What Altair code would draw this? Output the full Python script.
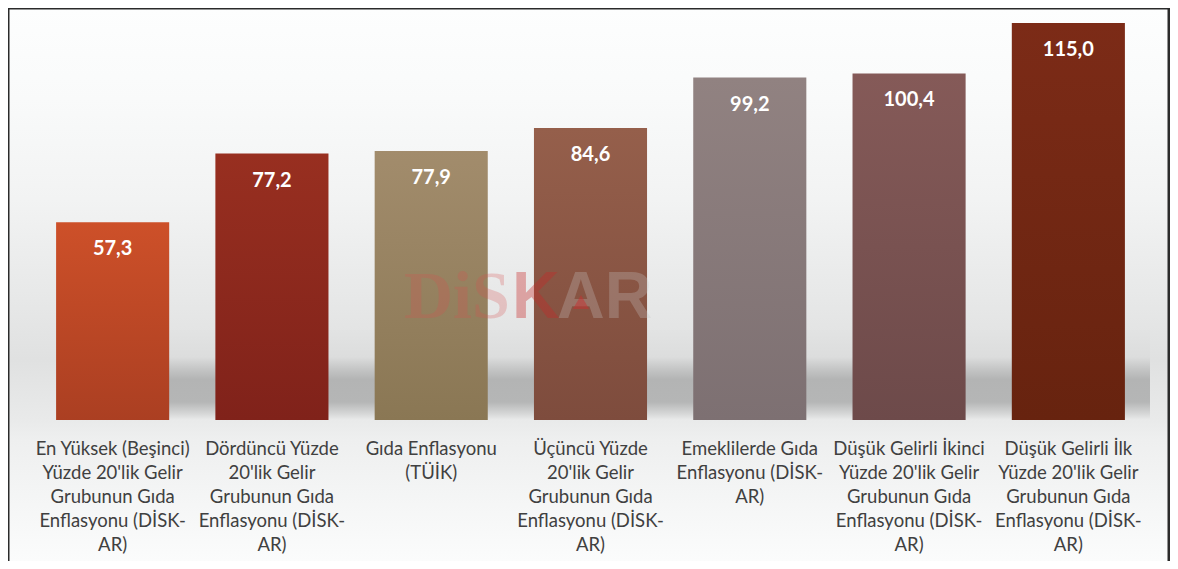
import altair as alt
import pandas as pd

categories = [
    "En Yüksek (Beşinci)\nYüzde 20'lik Gelir\nGrubunun Gıda\nEnflasyonu (DİSK-\nAR)",
    "Dördüncü Yüzde\n20'lik Gelir\nGrubunun Gıda\nEnflasyonu (DİSK-\nAR)",
    "Gıda Enflasyonu\n(TÜİK)",
    "Üçüncü Yüzde\n20'lik Gelir\nGrubunun Gıda\nEnflasyonu (DİSK-\nAR)",
    "Emeklilerde Gıda\nEnflasyonu (DİSK-\nAR)",
    "Düşük Gelirli İkinci\nYüzde 20'lik Gelir\nGrubunun Gıda\nEnflasyonu (DİSK-\nAR)",
    "Düşük Gelirli İlk\nYüzde 20'lik Gelir\nGrubunun Gıda\nEnflasyonu (DİSK-\nAR)",
]
values = [57.3, 77.2, 77.9, 84.6, 99.2, 100.4, 115.0]

top_colors = ["#cd5029", "#982f20", "#a28c6c", "#955f4b", "#918281", "#855a58", "#7c2b17"]
bottom_colors = ["#ab3f22", "#80221a", "#8a7754", "#7e4c3d", "#7d7072", "#6d4a4a", "#67230f"]

df = pd.DataFrame({"cat": categories, "value": values, "idx": list(range(len(values)))})

W, H = 1115, 410
Y_MAX = 118.77

x_enc = alt.X("cat:N", sort=categories,
              scale=alt.Scale(domain=categories, paddingInner=0.29, paddingOuter=0.145),
              axis=None)
y_enc = alt.Y("value:Q", scale=alt.Scale(domain=[0, Y_MAX]), axis=None)

one = pd.DataFrame({"a": [0]})

def grad(stops, vertical=True):
    return alt.Gradient(
        gradient="linear",
        stops=[alt.GradientStop(color=c, offset=o) for o, c in stops],
        x1=0, x2=0 if vertical else 1, y1=0, y2=1 if vertical else 0,
    )

bg = alt.Chart(one).mark_rect(color=grad([
    (0.0, "#fdfefe"), (0.165, "#f9fafa"), (0.346, "#f2f3f3"), (0.527, "#e7e8e8"),
    (0.636, "#e0e1e1"), (0.745, "#e9eaea"), (0.78, "#eeefef"), (1.0, "#fbfcfc"),
])).encode(x=alt.value(-25), x2=alt.value(1136), y=alt.value(-2), y2=alt.value(551))

shadow = alt.Chart(one).mark_rect(color=grad([
    (0.0, "#e2e3e3"), (0.3, "#dcdddd"), (0.45, "#c2c3c3"), (0.55, "#b3b4b4"),
    (0.8, "#b5b6b6"), (0.93, "#d6d7d7"), (1.0, "#eaebeb"),
])).encode(x=alt.value(136), x2=alt.value(1117), y=alt.value(320), y2=alt.value(410))

bar_layers = []
for i in range(len(values)):
    bar_layers.append(
        alt.Chart(df).transform_filter(alt.datum.idx == i)
        .mark_bar(color=grad([(0, top_colors[i]), (1, bottom_colors[i])]))
        .encode(x=x_enc, y=y_enc)
    )

wm1 = alt.Chart(one).mark_text(text="DiS", font="Liberation Serif", fontWeight="bold",
                               fontSize=68, align="left", baseline="alphabetic",
                               color="#d85050", opacity=0.25).encode(
    x=alt.value(371), y=alt.value(308))
wm2 = alt.Chart(one).mark_text(text="K", font="Liberation Sans", fontWeight="bold",
                               fontSize=66, align="left", baseline="alphabetic",
                               color="#c82828", opacity=0.36).encode(
    x=alt.value(479), y=alt.value(308))
wm3 = alt.Chart(one).mark_text(text="AR", font="Liberation Sans", fontWeight="bold",
                               fontSize=66, align="left", baseline="alphabetic",
                               color="#c8c8c8", opacity=0.28).encode(
    x=alt.value(524), y=alt.value(308))
wm4 = alt.Chart(one).mark_point(shape="triangle-up", filled=True, size=260,
                                color="#c83030", opacity=0.5).encode(
    x=alt.value(548), y=alt.value(292))

value_labels = alt.Chart(df).transform_calculate(
    lab="replace(format(datum.value, '.1f'), '.', ',')"
).mark_text(font="Lato", fontWeight="bold", fontSize=20, color="white",
            baseline="alphabetic", dy=33).encode(x=x_enc, y=y_enc, text="lab:N")

cat_labels = alt.Chart(df).mark_text(font="Lato", fontSize=18.5, color="#404040",
                                     baseline="top", lineBreak="\n", lineHeight=24).encode(
    x=x_enc, y=alt.value(430), text="cat:N")

fr_style = dict(color="#2b2b2b", strokeWidth=3)
frame_l = alt.Chart(one).mark_rule(**fr_style).encode(
    x=alt.value(-25), y=alt.value(-2), y2=alt.value(551))
frame_t = alt.Chart(one).mark_rule(**fr_style).encode(
    x=alt.value(-25), x2=alt.value(1136), y=alt.value(-2))
frame_r = alt.Chart(one).mark_rule(**fr_style).encode(
    x=alt.value(1136), y=alt.value(-2), y2=alt.value(551))

chart = alt.layer(
    bg, shadow, *bar_layers, wm1, wm2, wm3, wm4, value_labels, cat_labels,
    frame_l, frame_t, frame_r,
).properties(
    width=W, height=H,
    autosize=alt.AutoSizeParams(type="none"),
    padding={"left": 25, "top": 2, "right": 22, "bottom": 141},
).configure_view(stroke=None)

chart.save("out.html", embed_options={"renderer": "svg", "actions": False})
